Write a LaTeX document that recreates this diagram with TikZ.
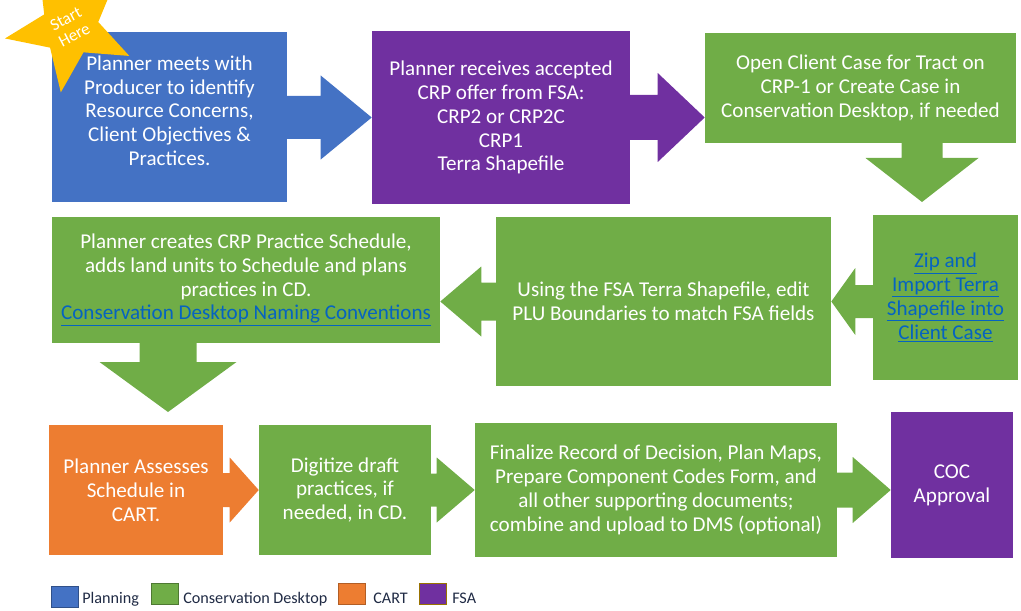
\documentclass[tikz,border=0pt]{standalone}
\usepackage{fontspec}
\setmainfont{Carlito}
\usetikzlibrary{calc,shapes.geometric}
\definecolor{planblue}{HTML}{4472C4}
\definecolor{cdgreen}{HTML}{70AD47}
\definecolor{cartorange}{HTML}{ED7D31}
\definecolor{fsapurple}{HTML}{7030A0}
\definecolor{stargold}{HTML}{FFC000}
\definecolor{linkblue}{HTML}{0563C1}
\definecolor{legendtext}{HTML}{1F2A44}
\tikzset{
    every node/.style={inner sep=0pt, align=center, text=white,
    	font=\fontsize{15}{17}\selectfont}
}
\tikzset{
    flowbox/.style 2 args={rectangle, minimum width=#1*0.025cm,
    	minimum height=#2*0.025cm}
}
\tikzset{
    legsq/.style={rectangle, line width=0.6pt, minimum width=27*0.025cm,
    	minimum height=21*0.025cm},
    legtext/.style={anchor=base west, text=legendtext,
    	font=\fontsize{11.5}{13}\selectfont}
}
\newcommand{\lnk}[1]{{\color{linkblue}\underline{#1}}}
% arrow of a callout: colour, base, tip, shaft half, head half, head length
\newcommand{\harr}[6]{%
	\coordinate (s) at (#2 |- #3);
	\fill[#1] ($(s)+(0,-#4)$) -- ($(#3)+({-(#6)},-#4)$) -- ($(#3)+({-(#6)},-#5)$)
		-- (#3) -- ($(#3)+({-(#6)},#5)$) -- ($(#3)+({-(#6)},#4)$)
		-- ($(s)+(0,#4)$) -- cycle;}
\newcommand{\varr}[6]{%
	\coordinate (s) at (#3 |- #2);
	\fill[#1] ($(s)+(-#4,0)$) -- ($(#3)+(-#4,-#6)$) -- ($(#3)+(-#5,-#6)$)
		-- (#3) -- ($(#3)+(#5,-#6)$) -- ($(#3)+(#4,-#6)$)
		-- ($(s)+(#4,0)$) -- cycle;}
\pgfdeclarelayer{background}
\pgfsetlayers{background,main}

\begin{document}
\begin{tikzpicture}[x=0.025cm, y=-0.025cm]
	\useasboundingbox (0,0) rectangle (1021,611);
	\node (b1) [flowbox={235}{170}, fill=planblue] at (169.5,117)
		{Planner meets with\\Producer to identify\\Resource Concerns,\\
		Client Objectives \&\\Practices.\rule[-9pt]{0pt}{0pt}};
	\node (b2) [flowbox={258}{173}, fill=fsapurple] at (501,117.5)
		{Planner receives accepted\\CRP offer from FSA:\\CRP2 or CRP2C\\CRP1\\
		Terra Shapefile};
	\node (b3) [flowbox={311}{110}, fill=cdgreen] at (860.5,88)
		{Open Client Case for Tract on\\CRP-1 or Create Case in\\
		Conservation Desktop, if needed};
	\node (b4) [flowbox={145}{165}, fill=cdgreen] at (945.5,297.5)
		{\lnk{Zip and}\\\lnk{Import Terra}\\\lnk{Shapefile into}\\\lnk{Client Case}};
	\node (b5) [flowbox={335}{169}, fill=cdgreen] at (663.5,301.5)
		{Using the FSA Terra Shapefile, edit\\PLU Boundaries to match FSA fields};
	\node (b6) [flowbox={388}{126}, fill=cdgreen] at (246,280)
		{Planner creates CRP Practice Schedule,\\
		adds land units to Schedule and plans\\practices in CD.\\
		\lnk{Conservation Desktop Naming Conventions}};
	\node (b7) [flowbox={174}{130}, fill=cartorange] at (136,490)
		{Planner Assesses\\Schedule in\\CART.};
	\node (b8) [flowbox={172}{130}, fill=cdgreen] at (345,490)
		{Digitize draft\\practices, if\\needed, in CD.};
	\node (b9) [flowbox={362}{134}, fill=cdgreen] at (656,490)
		{Finalize Record of Decision, Plan Maps,\\
		Prepare Component Codes Form, and\\all other supporting documents;\\
		combine and upload to DMS (optional)};
	\node (b10) [flowbox={122}{146}, fill=fsapurple] at (952,485)
		{COC\\Approval};
	
	\coordinate (t2) at (b3.west |- b2.east);
	\coordinate (t3) at (922,202);
	\coordinate (t5) at (b6.east |- b5.west);
	\coordinate (t6) at (168,412);
	\coordinate (t9) at (b10.west |- b9.east);
	\begin{pgfonlayer}{background}
		\harr{planblue}{b1.center}{b2.west}{21.5}{42}{51}
		\harr{fsapurple}{b2.center}{t2}{22.5}{44.5}{47}
		\varr{cdgreen}{b3.center}{t3}{20.5}{56.5}{44}
		\harr{cdgreen}{b4.center}{b5.east}{16.5}{33.5}{-24}
		\harr{cdgreen}{b5.center}{t5}{19}{35}{-41}
		\varr{cdgreen}{b6.center}{t6}{28.5}{68.5}{50}
		\harr{cartorange}{b7.center}{b8.west}{17}{32.5}{29}
		\harr{cdgreen}{b8.center}{b9.west}{16.5}{32.5}{38}
		\harr{cdgreen}{b9.center}{t9}{17.5}{33}{38}
	\end{pgfonlayer}
	
	\node (start) [star, star points=5, star point ratio=2.3, fill=stargold,
		minimum size=132*0.025cm, rotate=28,
		font=\fontsize{12}{13}\selectfont] at (70,27) {Start\\Here};
	
	% legend
	\node (lplan) [legsq, fill=planblue, draw=planblue!70!black] at (64.5,597) {};
	\node (lcd) [legsq, fill=cdgreen, draw=cdgreen!70!black] at (165,593.5) {};
	\node (lcart) [legsq, fill=cartorange, draw=cartorange!75!black] at (351.5,593.5) {};
	\node (lfsa) [legsq, fill=fsapurple, draw=stargold!60!black] at (432.5,593.5) {};
	\node (lplantext) [legtext] at (82,603) {Planning};
	\node (lcdtext) [legtext] at (183,603) {Conservation Desktop};
	\node (lcarttext) [legtext] at (373,603) {CART};
	\node (lfsatext) [legtext] at (452,603) {FSA};
\end{tikzpicture}
\end{document}
